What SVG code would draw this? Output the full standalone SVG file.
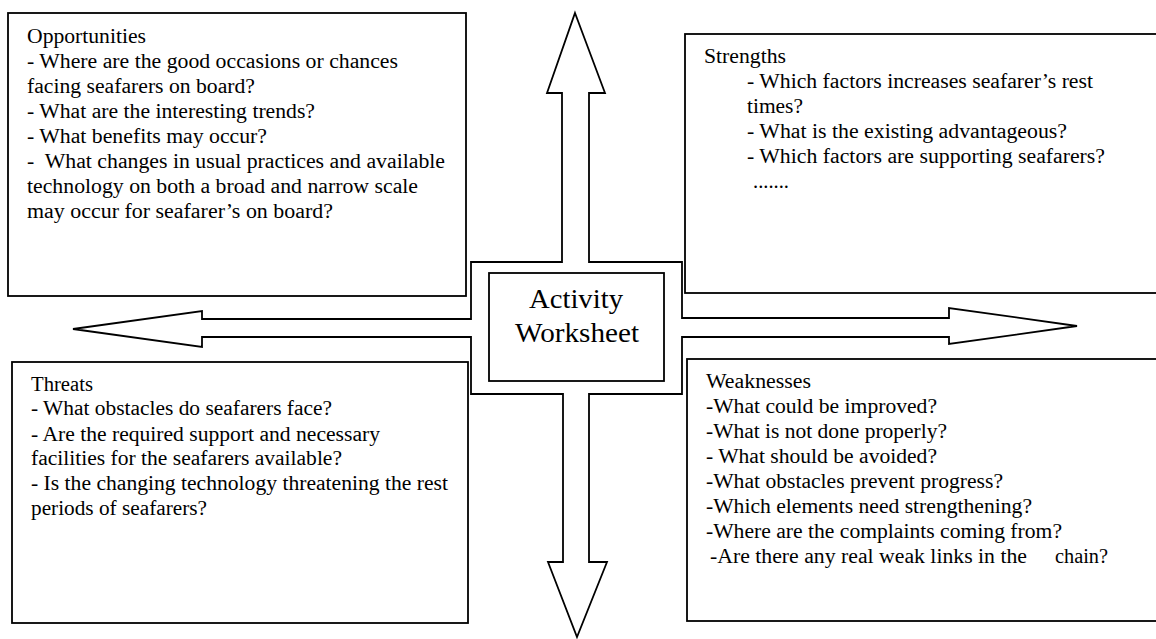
<svg xmlns="http://www.w3.org/2000/svg" width="1156" height="639" viewBox="0 0 1156 639">
<style>
.box{fill:#fff;stroke:#000;stroke-width:1.8}
.t{font-family:'Liberation Serif','Times New Roman','DejaVu Serif',serif;font-size:20px;fill:#000}
.c{font-family:'Liberation Serif','Times New Roman','DejaVu Serif',serif;font-size:27px;fill:#000}
</style>
<rect width="1156" height="639" fill="#fff"/>
<g id="connectors">
<polygon class="box" points="575,13 605,93 589,93 589,262 682,262 682,318 949,318 949,308 1077,326 949,344 949,337 682,337 682,394 589,394 589,562 607,562 577,637 548,562 563,562 563,394 471,394 471,337 202,337 202,347 73,329 202,311 202,319 471,319 471,262 562,262 562,93 547,93"/>
</g>
<g id="center">
<rect class="box" x="489" y="273" width="175" height="108"/>
<text class="c" x="529" y="308" textLength="94" lengthAdjust="spacingAndGlyphs">Activity</text>
<text class="c" x="515" y="342" textLength="124" lengthAdjust="spacingAndGlyphs">Worksheet</text>
</g>
<g id="opportunities">
<rect class="box" x="8" y="13" width="458" height="283"/>
<text class="t" x="27" y="43" textLength="119" lengthAdjust="spacingAndGlyphs">Opportunities</text>
<text class="t" x="27" y="68" textLength="371" lengthAdjust="spacingAndGlyphs">- Where are the good occasions or chances</text>
<text class="t" x="27" y="93" textLength="228" lengthAdjust="spacingAndGlyphs">facing seafarers on board?</text>
<text class="t" x="27" y="118" textLength="288" lengthAdjust="spacingAndGlyphs">- What are the interesting trends?</text>
<text class="t" x="27" y="143" textLength="240" lengthAdjust="spacingAndGlyphs">- What benefits may occur?</text>
<text class="t" x="27" y="168" textLength="418" lengthAdjust="spacingAndGlyphs" xml:space="preserve">-  What changes in usual practices and available</text>
<text class="t" x="27" y="193" textLength="391" lengthAdjust="spacingAndGlyphs">technology on both a broad and narrow scale</text>
<text class="t" x="27" y="218" textLength="306" lengthAdjust="spacingAndGlyphs">may occur for seafarer’s on board?</text>
</g>
<g id="strengths">
<rect class="box" x="685" y="34" width="480" height="259"/>
<text class="t" x="704" y="63" textLength="82" lengthAdjust="spacingAndGlyphs">Strengths</text>
<text class="t" x="747" y="88" textLength="346" lengthAdjust="spacingAndGlyphs">- Which factors increases seafarer’s rest</text>
<text class="t" x="747" y="113" textLength="56" lengthAdjust="spacingAndGlyphs">times?</text>
<text class="t" x="747" y="138" textLength="320" lengthAdjust="spacingAndGlyphs">- What is the existing advantageous?</text>
<text class="t" x="747" y="163" textLength="358" lengthAdjust="spacingAndGlyphs">- Which factors are supporting seafarers?</text>
<text class="t" x="753" y="188" textLength="36" lengthAdjust="spacingAndGlyphs">.......</text>
</g>
<g id="threats">
<rect class="box" x="12" y="362" width="456" height="261"/>
<text class="t" x="31" y="391" textLength="62" lengthAdjust="spacingAndGlyphs">Threats</text>
<text class="t" x="31" y="415" textLength="301" lengthAdjust="spacingAndGlyphs">- What obstacles do seafarers face?</text>
<text class="t" x="31" y="441" textLength="349" lengthAdjust="spacingAndGlyphs">- Are the required support and necessary</text>
<text class="t" x="31" y="465" textLength="311" lengthAdjust="spacingAndGlyphs">facilities for the seafarers available?</text>
<text class="t" x="31" y="490" textLength="417" lengthAdjust="spacingAndGlyphs">- Is the changing technology threatening the rest</text>
<text class="t" x="31" y="515" textLength="176" lengthAdjust="spacingAndGlyphs">periods of seafarers?</text>
</g>
<g id="weaknesses">
<rect class="box" x="687" y="359" width="480" height="262"/>
<text class="t" x="706" y="388" textLength="105" lengthAdjust="spacingAndGlyphs">Weaknesses</text>
<text class="t" x="706" y="413" textLength="231" lengthAdjust="spacingAndGlyphs">-What could be improved?</text>
<text class="t" x="706" y="438" textLength="241" lengthAdjust="spacingAndGlyphs">-What is not done properly?</text>
<text class="t" x="706" y="463" textLength="231" lengthAdjust="spacingAndGlyphs">- What should be avoided?</text>
<text class="t" x="706" y="488" textLength="297" lengthAdjust="spacingAndGlyphs">-What obstacles prevent progress?</text>
<text class="t" x="706" y="513" textLength="326" lengthAdjust="spacingAndGlyphs">-Which elements need strengthening?</text>
<text class="t" x="706" y="538" textLength="356" lengthAdjust="spacingAndGlyphs">-Where are the complaints coming from?</text>
<text class="t" x="710" y="563" textLength="317" lengthAdjust="spacingAndGlyphs">-Are there any real weak links in the</text>
<text class="t" x="1055" y="563" textLength="53" lengthAdjust="spacingAndGlyphs">chain?</text>
</g>
</svg>
